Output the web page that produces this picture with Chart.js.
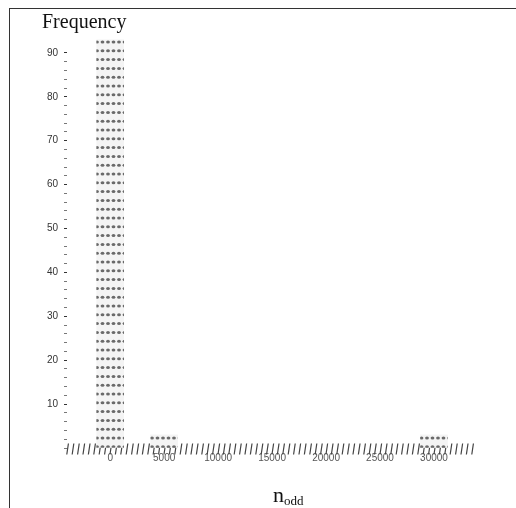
<!DOCTYPE html>
<html>
<head>
<meta charset="utf-8">
<script src="https://cdn.jsdelivr.net/npm/chart.js@4.4.0/dist/chart.umd.min.js"></script>
<style>
  html, body { margin: 0; padding: 0; background: #fff; }
  #wrap { position: relative; width: 516px; height: 508px; overflow: hidden; }
  #frame { position: absolute; left: 9px; top: 8px; right: -2px; bottom: -2px;
           border-left: 1px solid #333; border-top: 1px solid #333; }
  canvas { position: absolute; left: 0; top: 0; }
</style>
</head>
<body>
<div id="wrap">
  <div id="frame"></div>
  <canvas id="histChart" width="516" height="508"></canvas>
</div>
<script>
// histogram bins (centre of bin) and their counts
const binCenters = [0, 5000, 30000];
const counts = [93, 3, 3];

const xTicks = [0, 5000, 10000, 15000, 20000, 25000, 30000];
const yLabels = [10, 20, 30, 40, 50, 60, 70, 80, 90];
const yMinorStep = 2;

// rows of little asterisk-like dots used to fill the bars
const makeGlyphFill = () => {
	const tile = document.createElement("canvas");
	tile.width = 11;
	tile.height = 44;
	const g = tile.getContext("2d");
	g.fillStyle = "#f4f4f4";
	g.fillRect(0, 0, 11, 44);
	g.fillStyle = "#6a6a6a";
	for (let r = 0; r < 5; r++) {
		const y = 6.8 + r * 8.8;
		[3.5, 9].forEach((x) => {
			g.beginPath();
			g.ellipse(x, y, 1.9, 1.5, 0, 0, Math.PI * 2);
			g.fill();
		});
	}
	return g.createPattern(tile, "repeat");
};

// the x axis is drawn as a row of short slanted strokes
const strokeAxis = {
	id: "strokeAxis",
	beforeDatasetsDraw(chart) {
		const { ctx, chartArea } = chart;
		const y = chartArea.bottom + 1;
		ctx.save();
		ctx.transform(1, 0, -0.15, 1, 0.15 * y, 0);
		ctx.strokeStyle = "#444";
		ctx.lineWidth = 11;
		ctx.setLineDash([1.2, 4.2]);
		ctx.beginPath();
		ctx.moveTo(chartArea.left, y);
		ctx.lineTo(chartArea.right, y);
		ctx.stroke();
		ctx.restore();
	},
};

const axisTitles = {
	id: "axisTitles",
	afterDraw(chart) {
		const { ctx } = chart;
		ctx.save();
		ctx.fillStyle = "#111";
		ctx.textBaseline = "alphabetic";
		ctx.font = '20px "Liberation Serif"';
		ctx.fillText("Frequency", 42, 28);
		ctx.font = '22px "Liberation Serif"';
		ctx.fillText("n", 273, 502);
		const w = ctx.measureText("n").width;
		ctx.font = '13px "Liberation Serif"';
		ctx.fillText("odd", 273 + w, 505);
		ctx.restore();
	},
};

const renderHistogram = () => {
	const data = {
		datasets: [
			{
				data: binCenters.map((x, i) => ({ x, y: counts[i] })),
				backgroundColor: makeGlyphFill(),
				borderWidth: 0,
				barThickness: 27,
			},
		],
	};
	const options = {
		responsive: false,
		animation: false,
		layout: { padding: { left: 20, right: 41, top: 31, bottom: 20 } },
		plugins: {
			legend: { display: false },
			tooltip: { enabled: false },
		},
		scales: {
			x: {
				type: "linear",
				offset: false,
				min: -4000,
				max: 33800,
				afterFit: (s) => { s.height = 40; },
				afterBuildTicks: (s) => { s.ticks = xTicks.map((value) => ({ value })); },
				grid: { display: false, tickLength: 0 },
				border: { display: false },
				ticks: {
					autoSkip: false,
					padding: 4,
					color: "#555",
					font: { family: "Liberation Sans", size: 10 },
					maxRotation: 0,
					callback: (v) => String(v),
				},
			},
			y: {
				min: 0,
				max: 95,
				afterFit: (s) => { s.width = 47; },
				afterBuildTicks: (s) => {
					const ticks = [];
					for (let v = 0; v <= 90; v += yMinorStep) ticks.push({ value: v });
					s.ticks = ticks;
				},
				grid: {
					drawOnChartArea: false,
					tickLength: 3,
					color: (c) => (yLabels.includes(c.tick.value) ? "#333" : "#777"),
				},
				border: { display: false },
				ticks: {
					autoSkip: false,
					padding: 6,
					color: "#333",
					font: { family: "Liberation Sans", size: 10 },
					callback: (v) => (yLabels.includes(v) ? String(v) : ""),
				},
			},
		},
	};

	new Chart("histChart", { type: "bar", data, options, plugins: [strokeAxis, axisTitles] });
};

renderHistogram();
</script>
</body>
</html>
